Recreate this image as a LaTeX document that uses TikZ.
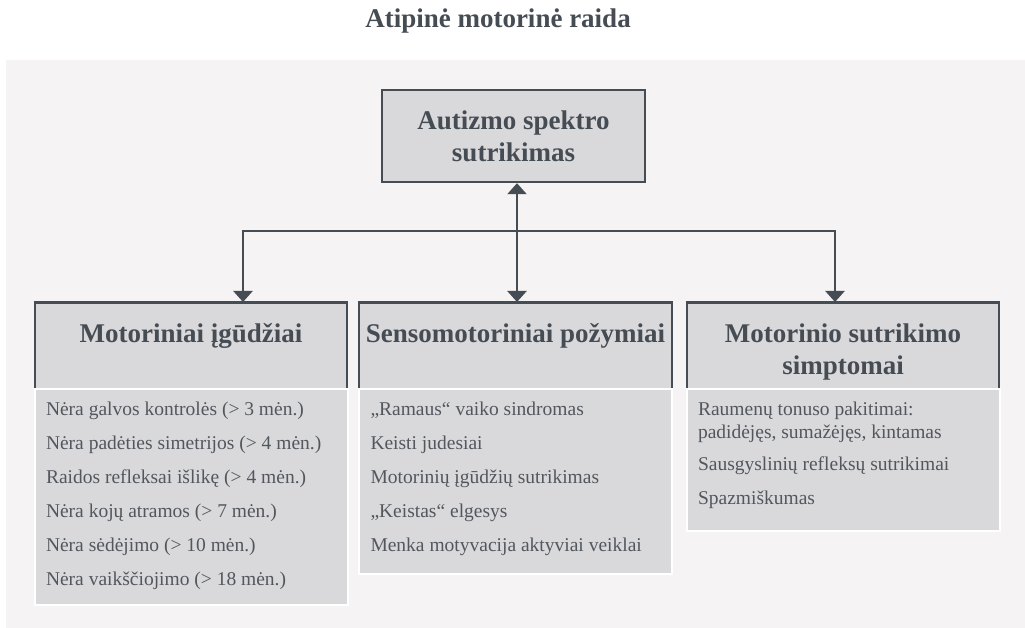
\documentclass[tikz,border=0pt]{standalone}
\usepackage{fontspec}
\setmainfont{Liberation Serif}
\usetikzlibrary{arrows.meta}
\definecolor{panel}{HTML}{F5F3F4}
\definecolor{boxgray}{HTML}{D9D9DB}
\definecolor{edge}{HTML}{464C54}
\definecolor{listink}{HTML}{52575E}
\newcommand{\headbox}[1]{\parbox[c][86pt][t]{306pt}{\centering\rule{0pt}{40pt}#1}}
\newcommand{\listbox}[2]{\parbox[c][#1][t]{290pt}{\raggedright\rule{0pt}{26pt}#2}}

\begin{document}
\begin{tikzpicture}[x=1pt,y=-1pt,
  bold/.style={font=\fontsize{27}{32}\selectfont\bfseries, text=edge},
  topbox/.style={bold, draw=edge, line width=2.4pt, fill=boxgray, minimum width=263pt, minimum height=92pt, align=center, inner sep=0pt},
  head/.style={bold, fill=boxgray, anchor=north, minimum width=312pt, inner sep=0pt},
  listbox/.style={font=\fontsize{19.5}{23}\selectfont, text=listink, fill=boxgray, draw=white, line width=2pt, anchor=north, minimum width=313pt, inner sep=0pt},
  edgeline/.style={draw=edge, line width=2.4pt},
  link/.style={edgeline, {Triangle[width=19pt,length=11pt]}-{Triangle[width=19pt,length=11pt]}}]
    \useasboundingbox (0,0) rectangle (1025,628);
    \fill[panel] (6,60) rectangle (1025,628);

    \node[bold, anchor=base] (title) at (498,28) {Atipinė motorinė raida};
    \node[topbox] (asd) at (513.5,136) {Autizmo spektro\\sutrikimas};

    \node[head] (motor) at (191,302) {\headbox{Motoriniai įgūdžiai}};
    \node[head, minimum width=313pt] (senso) at (515.5,302) {\headbox{Sensomotoriniai požymiai}};
    \node[head] (simpt) at (843,302) {\headbox{Motorinio sutrikimo\\simptomai}};

    \coordinate (cv) at (517,231);
    \coordinate (jl) at (243,231);
    \coordinate (jr) at (835,231);
    \draw[link] (cv |- asd.south) -- (cv |- senso.north);
    \draw[link] (jl |- motor.north) -- (jl) -- (jr) -- (jr |- simpt.north);

    \foreach \n in {motor,senso,simpt}{
        \draw[edgeline, line width=2pt] (\n.south west) -- (\n.north west);
        \draw[edgeline, line width=2pt] (\n.south east) -- (\n.north east);
        \draw[edgeline, line width=3pt] ([xshift=-1pt]\n.north west) -- ([xshift=1pt]\n.north east);
    }

    \node[listbox] (motorlist) at (motor.south) {\listbox{216pt}{Nėra galvos kontrolės (> 3 mėn.)\\[11pt]
        Nėra padėties simetrijos (> 4 mėn.)\\[11pt]
        Raidos refleksai išlikę (> 4 mėn.)\\[11pt]
        Nėra kojų atramos (> 7 mėn.)\\[11pt]
        Nėra sėdėjimo (> 10 mėn.)\\[11pt]
        Nėra vaikščiojimo (> 18 mėn.)}};
    \node[listbox] (sensolist) at (senso.south) {\listbox{185pt}{„Ramaus“ vaiko sindromas\\[11pt]
        Keisti judesiai\\[11pt]
        Motorinių įgūdžių sutrikimas\\[11pt]
        „Keistas“ elgesys\\[11pt]
        Menka motyvacija aktyviai veiklai}};
    \node[listbox] (simptlist) at (simpt.south) {\listbox{142pt}{Raumenų tonuso pakitimai:\\
        padidėjęs, sumažėjęs, kintamas\\[9pt]
        Sausgyslinių refleksų sutrikimai\\[11pt]
        Spazmiškumas}};
\end{tikzpicture}
\end{document}
